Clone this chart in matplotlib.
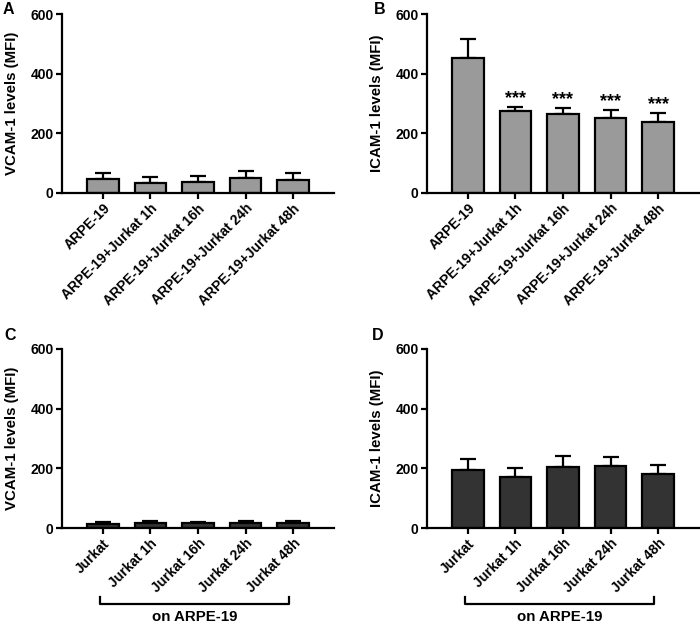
import matplotlib
matplotlib.use("Agg")
import matplotlib.pyplot as plt
import matplotlib.transforms as mtransforms

plt.rcParams['font.family'] = ['Liberation Sans', 'DejaVu Sans']
plt.rcParams['font.weight'] = 'bold'

labels_ab = ["ARPE-19", "ARPE-19+Jurkat 1h", "ARPE-19+Jurkat 16h",
             "ARPE-19+Jurkat 24h", "ARPE-19+Jurkat 48h"]
labels_cd = ["Jurkat", "Jurkat 1h", "Jurkat 16h", "Jurkat 24h", "Jurkat 48h"]

vcam_a = [47, 35, 38, 49, 45]
vcam_a_err = [19, 19, 19, 25, 22]
icam_b = [451, 275, 264, 251, 237]
icam_b_err = [65, 14, 21, 27, 31]
sig_b = ["", "***", "***", "***", "***"]
vcam_c = [15, 16, 16, 17, 17]
vcam_c_err = [5, 6, 5, 5, 7]
icam_d = [195, 172, 205, 208, 180]
icam_d_err = [37, 30, 36, 30, 31]

light = "#9a9a9a"
dark = "#333333"

fig = plt.figure(figsize=(7.0, 6.24), dpi=100)

W, H = 700, 624
def rect(l, r, t, b):
    return [l / W, 1 - b / H, (r - l) / W, (b - t) / H]

axA = fig.add_axes(rect(62, 334, 14, 193))
axB = fig.add_axes(rect(427, 699, 14, 193))
axC = fig.add_axes(rect(62, 334, 349, 528))
axD = fig.add_axes(rect(427, 699, 349, 528))

TICK_FS = 10
LABEL_FS = 10.8

def panel(ax, vals, errs, labels, color, ylabel, bracket=False, sig=None):
    x = list(range(len(vals)))
    ax.bar(x, vals, width=0.67, color=color, edgecolor='black', linewidth=1.6, zorder=2)
    ax.errorbar(x, vals, yerr=[[0] * len(vals), errs], fmt='none', ecolor='black',
                elinewidth=1.6, capsize=5.5, capthick=1.6, zorder=1)
    ax.set_xlim(-0.86, 4.86)
    ax.set_ylim(0, 600)
    ax.set_yticks([0, 200, 400, 600])
    ax.set_xticks(x)
    ax.set_xticklabels(labels, rotation=45, ha='right', rotation_mode='anchor',
                       fontsize=TICK_FS, fontweight='bold')
    for t in ax.get_yticklabels():
        t.set_fontsize(TICK_FS)
        t.set_fontweight('bold')
    ax.spines['top'].set_visible(False)
    ax.spines['right'].set_visible(False)
    ax.spines['left'].set_linewidth(1.6)
    ax.spines['bottom'].set_linewidth(1.6)
    ax.tick_params(axis='both', width=1.6, length=4, direction='out', pad=2)
    ax.set_ylabel(ylabel, fontsize=LABEL_FS, fontweight='bold', labelpad=8)
    if sig is not None:
        for xi, v, e, s in zip(x, vals, errs, sig):
            if s:
                ax.annotate(s, (xi, v + e), xytext=(0, 0), textcoords='offset points',
                            ha='center', va='bottom', fontsize=13, fontweight='bold')
    if bracket:
        tr = mtransforms.blended_transform_factory(ax.transData, ax.transAxes)
        x0, x1 = -0.06, 3.92
        ax.plot([x0, x0, x1, x1], [-0.385, -0.425, -0.425, -0.385], color='black',
                lw=1.6, transform=tr, clip_on=False)
        ax.text((x0 + x1) / 2, -0.497, "on ARPE-19", transform=tr, ha='center',
                va='center', fontsize=LABEL_FS, fontweight='bold')

panel(axA, vcam_a, vcam_a_err, labels_ab, light, "VCAM-1 levels (MFI)")
panel(axB, icam_b, icam_b_err, labels_ab, light, "ICAM-1 levels (MFI)", sig=sig_b)
panel(axC, vcam_c, vcam_c_err, labels_cd, dark, "VCAM-1 levels (MFI)", bracket=True)
panel(axD, icam_d, icam_d_err, labels_cd, dark, "ICAM-1 levels (MFI)", bracket=True)

for letter, px, py in [("A", 3, 9), ("B", 374, 9), ("C", 4, 335), ("D", 372, 335)]:
    fig.text(px / W, 1 - py / H, letter, fontsize=11.5, fontweight='bold',
             ha='left', va='center')

fig.savefig("out.png", dpi=100)
